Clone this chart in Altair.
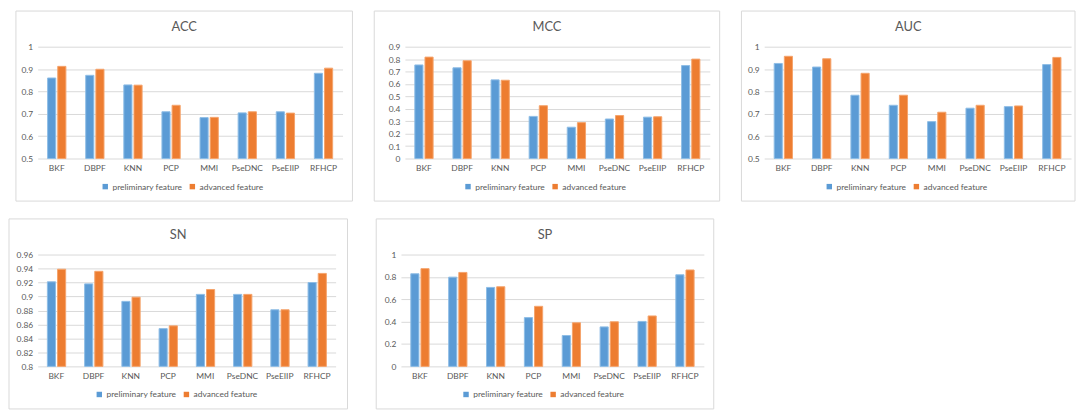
import altair as alt
import pandas as pd

methods = ["BKF", "DBPF", "KNN", "PCP", "MMI", "PseDNC", "PseEIIP", "RFHCP"]
features = ["preliminary feature", "advanced feature"]

acc_pre = [0.860, 0.872, 0.829, 0.709, 0.683, 0.704, 0.709, 0.881]
acc_adv = [0.912, 0.899, 0.828, 0.738, 0.684, 0.709, 0.703, 0.904]
mcc_pre = [0.753, 0.730, 0.633, 0.339, 0.252, 0.318, 0.333, 0.748]
mcc_adv = [0.816, 0.787, 0.630, 0.425, 0.289, 0.346, 0.336, 0.800]
auc_pre = [0.925, 0.909, 0.783, 0.738, 0.665, 0.725, 0.732, 0.920]
auc_adv = [0.957, 0.946, 0.881, 0.783, 0.707, 0.738, 0.735, 0.952]
sn_pre = [0.921, 0.918, 0.893, 0.854, 0.903, 0.903, 0.881, 0.920]
sn_adv = [0.939, 0.936, 0.899, 0.858, 0.910, 0.903, 0.881, 0.933]
sp_pre = [0.828, 0.798, 0.706, 0.436, 0.276, 0.353, 0.402, 0.819]
sp_adv = [0.874, 0.840, 0.712, 0.537, 0.390, 0.399, 0.451, 0.862]

acc_ticks = [0.5, 0.6, 0.7, 0.8, 0.9, 1.0]
mcc_ticks = [0, 0.1, 0.2, 0.3, 0.4, 0.5, 0.6, 0.7, 0.8, 0.9]
auc_ticks = [0.5, 0.6, 0.7, 0.8, 0.9, 1.0]
sn_ticks = [0.8, 0.82, 0.84, 0.86, 0.88, 0.9, 0.92, 0.94, 0.96]
sp_ticks = [0, 0.2, 0.4, 0.6, 0.8, 1.0]

FONT = "Lato"
TXT = "#595959"
GRID = "#D9D9D9"
FILLS = ["#5B9BD5", "#ED7D31"]
EDGES = ["#8FBDE6", "#F5A46C"]
FS = 8.5


def panel(title, pre, adv, ticks, w, h, left, right, top, bottom):
    df = pd.DataFrame({
        "method": methods * 2,
        "feature": [features[0]] * len(methods) + [features[1]] * len(methods),
        "value": pre + adv,
    })
    center = (left + w + right) / 2.0
    bars = alt.Chart(df).mark_bar(strokeWidth=1).encode(
        x=alt.X("method:N", sort=methods, title=None,
                scale=alt.Scale(paddingInner=0.52, paddingOuter=0.26),
                axis=alt.Axis(labelAngle=0, ticks=False, domain=False, grid=False,
                              labelColor=TXT, labelFontSize=FS, labelFont=FONT,
                              labelPadding=5)),
        xOffset=alt.XOffset("feature:N", sort=features,
                            scale=alt.Scale(paddingInner=0.2)),
        y=alt.Y("value:Q", title=None,
                scale=alt.Scale(domain=[ticks[0], ticks[-1]], nice=False, zero=False),
                axis=alt.Axis(values=ticks, format="~g", domain=False, ticks=False,
                              gridColor=GRID, gridWidth=1, labelColor=TXT,
                              labelFontSize=FS, labelFont=FONT, labelPadding=5)),
        y2=alt.datum(ticks[0]),
        color=alt.Color("feature:N", sort=features,
                        scale=alt.Scale(domain=features, range=FILLS),
                        legend=alt.Legend(title=None, orient="none", direction="horizontal",
                                          legendX=center - 84, legendY=h + 24,
                                          symbolType="square", symbolSize=30,
                                          symbolStrokeWidth=0, labelFontSize=FS,
                                          labelFont=FONT, labelColor=TXT,
                                          labelOffset=3, columnPadding=5, padding=0)),
        stroke=alt.Stroke("feature:N", sort=features,
                          scale=alt.Scale(domain=features, range=EDGES), legend=None),
    )
    border = alt.Chart(alt.Data(values=[{}])).mark_rect(
        fillOpacity=0, stroke=GRID, strokeWidth=1
    ).encode(x=alt.value(left), x2=alt.value(w + right),
             y=alt.value(top), y2=alt.value(h + bottom))
    ttl = alt.Chart(alt.Data(values=[{}])).mark_text(
        text=title, fontSize=13, font=FONT, color=TXT, align="center", baseline="middle"
    ).encode(x=alt.value(center), y=alt.value(top + 16))
    return alt.layer(border, bars, ttl).properties(width=w, height=h).resolve_scale(
        color="shared")


H = 113
p_acc = panel("ACC", acc_pre, acc_adv, acc_ticks, 308, H, -22, 10, -36, 43)
p_mcc = panel("MCC", mcc_pre, mcc_adv, mcc_ticks, 308, H, -31, 10, -36, 43)
p_auc = panel("AUC", auc_pre, auc_adv, auc_ticks, 310, H, -23, 4, -36, 43)
p_sn = panel("SN", sn_pre, sn_adv, sn_ticks, 301, H, -29, 12, -36, 43)
p_sp = panel("SP", sp_pre, sp_adv, sp_ticks, 306, H, -25, 10, -36, 43)

top_row = alt.hconcat(p_acc, p_mcc, p_auc, spacing=20).resolve_scale(
    x="independent", y="independent", color="independent", stroke="independent"
).resolve_legend(color="independent")
bottom_row = alt.hconcat(p_sn, p_sp, spacing=27).resolve_scale(
    x="independent", y="independent", color="independent", stroke="independent"
).resolve_legend(color="independent")

chart = alt.vconcat(top_row, bottom_row, spacing=16).resolve_scale(
    x="independent", y="independent", color="independent", stroke="independent"
).resolve_legend(color="independent").properties(
    padding=0, background="white"
).configure_view(strokeWidth=0)

chart.save("out.html", embed_options={"renderer": "svg", "actions": False})
